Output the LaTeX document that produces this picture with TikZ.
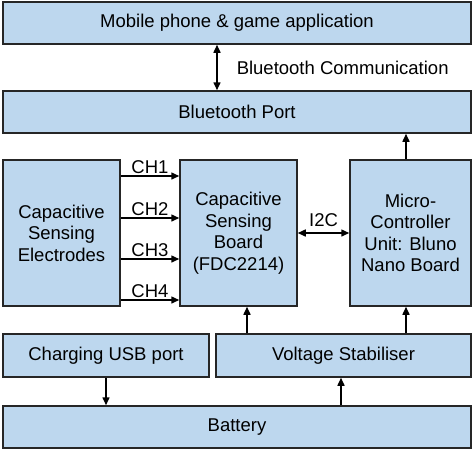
\documentclass[tikz,border=0pt]{standalone}
\usepackage{fontspec}
\setmainfont{Liberation Sans}
\usetikzlibrary{arrows.meta}
\definecolor{boxblue}{HTML}{BDD7EE}
\definecolor{boxline}{HTML}{262626}
\newcommand\boxfont{\fontsize{18.5}{21.5}\selectfont}

\begin{document}
\begin{tikzpicture}[x=1pt,y=-1pt,
        blk/.style={draw=boxline,fill=boxblue,line width=1.5pt,align=center,inner sep=0pt,font=\boxfont},
        arr/.style={line width=1.5pt,-{Triangle[length=8pt,width=7pt]}},
        darr/.style={line width=1.5pt,{Triangle[length=8pt,width=7pt]}-{Triangle[length=8pt,width=7pt]}},
        lbl/.style={font=\boxfont,inner sep=2pt}]
        \useasboundingbox (0,0) rectangle (474,451);
        % boxes
        \node[blk,minimum width=468pt,minimum height=42pt] (app) at (237,23) {Mobile phone \& game application};
        \node[blk,minimum width=468pt,minimum height=42pt] (btport) at (237,112) {Bluetooth Port};
        \node[blk,minimum width=117pt,minimum height=146pt] (elec) at (61.5,233) {Capacitive\\Sensing\\Electrodes};
        \node[blk,minimum width=117pt,minimum height=146pt] (fdc) at (238.5,233) {Capacitive\\Sensing\\Board\\(FDC2214)};
        \node[blk,minimum width=121pt,minimum height=146pt] (mcu) at (410.5,233) {Micro-\\Controller\\Unit: Bluno\\Nano Board};
        \node[blk,minimum width=206pt,minimum height=43pt] (usb) at (106,355.5) {Charging USB port};
        \node[blk,minimum width=255pt,minimum height=43pt] (stab) at (343.5,355.5) {Voltage Stabiliser};
        \node[blk,minimum width=468pt,minimum height=42pt] (bat) at (237,427) {Battery};
        % connectors
        \draw[darr] ([xshift=-20pt]app.south) -- ([xshift=-20pt]btport.north) node[lbl,midway,anchor=west,xshift=17pt] {Bluetooth Communication};
        \foreach \y/\n in {176/1,218/2,259/3,300/4}
            \draw[arr] (elec.east |- 0,\y) -- (fdc.west |- 0,\y) node[lbl,midway,above] {CH\n};
        \draw[darr] (fdc.east) -- (mcu.west) node[lbl,midway,above,yshift=4pt] {I2C};
        \draw[arr] (mcu.north -| 406,0) -- (btport.south -| 406,0);
        \draw[arr] (stab.north -| 247,0) -- (fdc.south -| 247,0);
        \draw[arr] (stab.north -| 406,0) -- (mcu.south -| 406,0);
        \draw[arr] (usb.south) -- (usb.south |- bat.north);
        \draw[arr] (bat.north -| 341,0) -- (stab.south -| 341,0);
    \end{tikzpicture}
\end{document}
